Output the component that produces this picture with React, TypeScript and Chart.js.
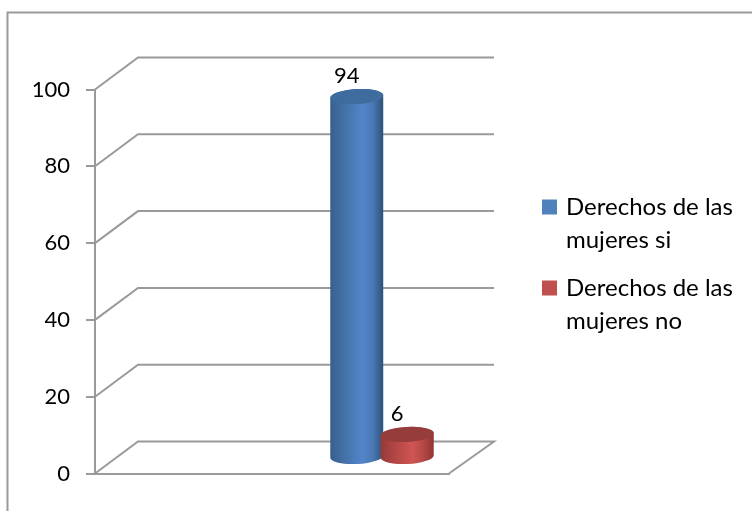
import React, { useEffect, useRef } from "react";
import { Chart, registerables } from "chart.js";

Chart.register(...registerables);

const categories: string[] = [""];
const seriesLabels: string[] = ["Derechos de las mujeres si", "Derechos de las mujeres no"];
const siValues: number[] = [94];
const noValues: number[] = [6];
const yTicks: number[] = [0, 20, 40, 60, 80, 100];

const FONT = "Lato";
const FONT_SIZE = 22;
const LEGEND_SIZE = 24;
const GRID = "#9a9a9a";
const DEPTH_X = 43;
const DEPTH_Y = 32;
// The bars of the original sit off-centre inside the 3D box.
const BAR_SHIFT_X = 110;
const BAR_SHIFT_Y = -16;

const palette = [
  { legend: "#4f81bd", stops: ["#37608f", "#4370a6", "#5285c9", "#4a79b6", "#2f5178"], cap: "#3f6c9e" },
  { legend: "#c0504d", stops: ["#98393a", "#b04644", "#cf5553", "#b54947", "#8f3432"], cap: "#963c3a" },
];

const scene3d = {
  id: "scene3d",
  beforeLayout(chart: any) {
    const legend = chart.legend;
    if (legend && !legend.__wrapped) {
      const fit = legend.fit;
      legend.fit = function () {
        fit.call(this);
        this.width = 303;
      };
      legend.__wrapped = true;
    }
  },
  afterLayout(chart: any) {
    const legend = chart.legend;
    if (legend) {
      legend.left = 531;
      legend.right = legend.left + 221;
      legend.top = 181;
    }
  },
  beforeDraw(chart: any) {
    const { ctx } = chart;
    ctx.save();
    ctx.strokeStyle = GRID;
    ctx.lineWidth = 2;
    ctx.strokeRect(7.5, 12.5, 900, 700);
    ctx.restore();
  },
  beforeDatasetsDraw(chart: any) {
    const { ctx, chartArea } = chart;
    const y = chart.scales.y;
    ctx.save();
    ctx.strokeStyle = GRID;
    ctx.lineWidth = 2;
    ctx.lineJoin = "miter";
    yTicks.forEach((tick) => {
      const py = y.getPixelForValue(tick);
      ctx.beginPath();
      ctx.moveTo(chartArea.left, py);
      ctx.lineTo(chartArea.left + DEPTH_X, py - DEPTH_Y);
      ctx.lineTo(chartArea.right + DEPTH_X + 2, py - DEPTH_Y);
      if (tick === 0) ctx.lineTo(chartArea.right, py);
      ctx.stroke();
    });
    ctx.restore();

    chart.data.datasets.forEach((_: any, i: number) => {
      const bar = chart.getDatasetMeta(i).data[0];
      const cx = bar.x + BAR_SHIFT_X;
      const top = bar.y + BAR_SHIFT_Y;
      const base = bar.base + BAR_SHIFT_Y;
      const rx = bar.width / 2;
      const ry = 7.5;
      const tilt = -0.05;
      const p = palette[i];
      const g = ctx.createLinearGradient(cx - rx, 0, cx + rx, 0);
      [0, 0.25, 0.6, 0.8, 1].forEach((s, k) => g.addColorStop(s, p.stops[k]));
      ctx.save();
      ctx.beginPath();
      ctx.ellipse(cx, base, rx, ry, tilt, 0, Math.PI);
      ctx.ellipse(cx, top, rx, ry, tilt, Math.PI, Math.PI * 2);
      ctx.closePath();
      ctx.fillStyle = g;
      ctx.fill();
      ctx.beginPath();
      ctx.ellipse(cx, top, rx, ry, tilt, 0, Math.PI * 2);
      ctx.fillStyle = p.cap;
      ctx.fill();
      ctx.fillStyle = "#000000";
      ctx.font = `${FONT_SIZE}px ${FONT}`;
      ctx.textAlign = "center";
      ctx.textBaseline = "middle";
      ctx.fillText(String(chart.data.datasets[i].data[0]), cx - 10, top - 21);
      ctx.restore();
    });
    return false;
  },
};

export default function App() {
  const ref = useRef<HTMLCanvasElement | null>(null);
  useEffect(() => {
    if (!ref.current) return;
    const chart = new Chart(ref.current, {
      type: "bar",
      data: {
        labels: categories,
        datasets: [
          { label: seriesLabels[0], data: siValues, backgroundColor: palette[0].legend },
          { label: seriesLabels[1], data: noValues, backgroundColor: palette[1].legend },
        ],
      },
      options: {
        animation: false,
        responsive: false,
        devicePixelRatio: 1,
        categoryPercentage: 0.2853,
        barPercentage: 1.05,
        layout: { padding: { left: 0, right: 0, top: 89.5, bottom: 37.5 } },
        scales: {
          x: {
            display: true,
            grid: { display: false, drawTicks: false },
            ticks: { display: false },
            border: { color: GRID, width: 2 },
          },
          y: {
            min: 0,
            max: 100,
            afterFit: (s: any) => {
              s.width = 95;
            },
            ticks: {
              stepSize: 20,
              padding: 16,
              color: "#000000",
              font: { family: FONT, size: FONT_SIZE },
            },
            grid: { drawOnChartArea: false, drawTicks: true, tickLength: 9, tickColor: GRID, tickWidth: 2, lineWidth: 2, color: GRID },
            border: { color: GRID, width: 2 },
          },
        },
        plugins: {
          tooltip: { enabled: false },
          title: { display: false },
          legend: {
            position: "right",
            align: "start",
            labels: {
              color: "#000000",
              boxWidth: 9,
              boxHeight: 9,
              padding: 14,
              font: { family: FONT, size: LEGEND_SIZE, lineHeight: 33.5 / LEGEND_SIZE },
              generateLabels: (c: any) =>
                c.data.datasets.map((d: any, i: number) => ({
                  text: d.label.replace("las ", "las\n").split("\n"),
                  fillStyle: d.backgroundColor,
                  strokeStyle: d.backgroundColor,
                  lineWidth: 6,
                  datasetIndex: i,
                })),
            },
          },
        },
      },
      plugins: [scene3d],
    } as any);
    return () => chart.destroy();
  }, []);
  return (
    <div style={{ position: "absolute", left: 0, top: 0, width: 752, height: 511, overflow: "hidden" }}>
      <canvas ref={ref} width={752} height={511} style={{ display: "block" }} />
    </div>
  );
}
